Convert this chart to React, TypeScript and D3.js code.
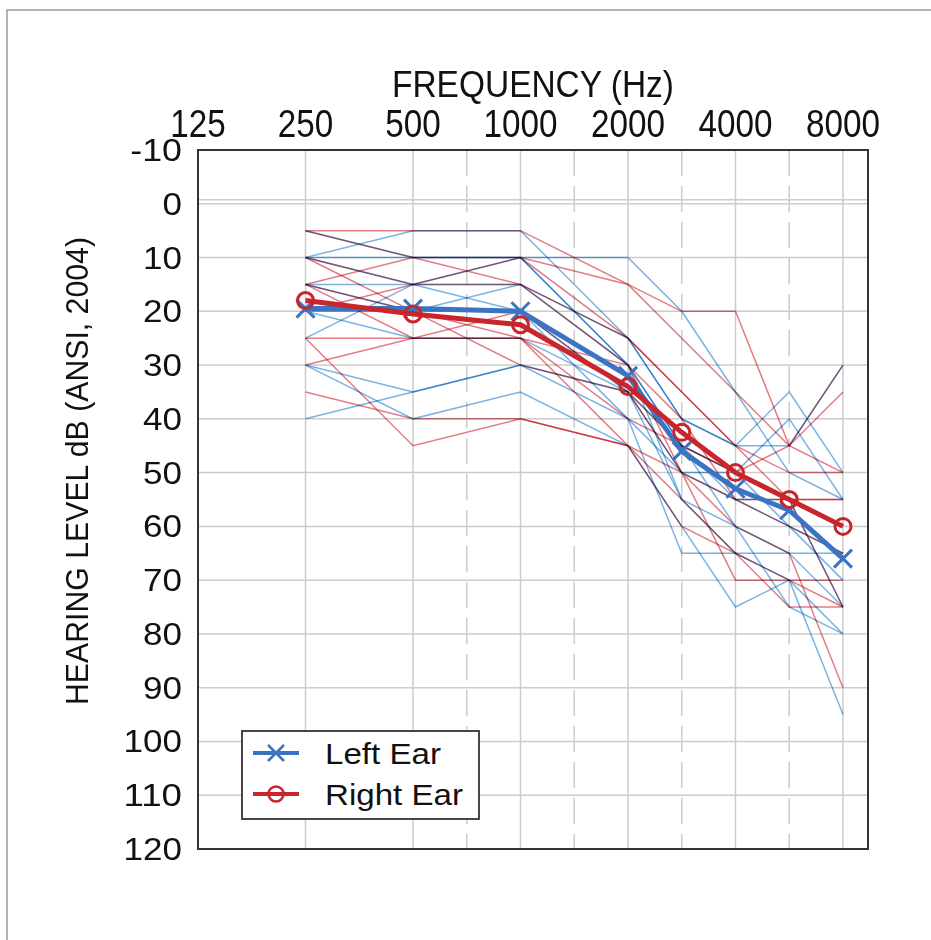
import React, { useEffect, useRef } from 'react';
import * as d3 from 'd3';

// frequency labels along the top and the inter-octave (dashed) lines
const freqLabels = [125, 250, 500, 1000, 2000, 4000, 8000];
const interOctave = [750, 1500, 3000, 6000];
const dbTicks = [-10, 0, 10, 20, 30, 40, 50, 60, 70, 80, 90, 100, 110, 120];

// test frequencies of every audiogram
const testFreqs = [250, 500, 1000, 2000, 3000, 4000, 6000, 8000];

// group means
const leftMean = [19.5, 19.5, 20, 32, 46, 53, 57, 66];
const rightMean = [18, 20.5, 22.5, 34, 42.5, 50, 55, 60];

// individual audiograms, left ear
const leftEars = [
  [10, 5, 5, 25, 40, 45, 45, 30],
  [10, 10, 10, 10, 20, 35, 50, 55],
  [15, 15, 15, 30, 45, 55, 60, 65],
  [20, 25, 25, 35, 50, 55, 55, 75],
  [25, 15, 10, 30, 55, 65, 70, 80],
  [30, 35, 30, 40, 65, 65, 65, 65],
  [30, 40, 35, 45, 60, 75, 70, 95],
  [40, 35, 30, 35, 55, 60, 75, 80],
  [5, 10, 10, 30, 45, 50, 40, 55],
  [15, 20, 20, 40, 50, 50, 60, 70],
  [20, 20, 15, 25, 40, 45, 35, 50],
  [10, 15, 20, 35, 45, 60, 65, 75],
];

// individual audiograms, right ear
const rightEars = [
  [5, 5, 5, 15, 25, 35, 45, 30],
  [5, 10, 10, 25, 35, 45, 55, 55],
  [10, 15, 10, 15, 20, 20, 45, 50],
  [15, 25, 20, 35, 45, 50, 55, 75],
  [25, 25, 25, 30, 40, 55, 55, 55],
  [25, 45, 40, 45, 55, 65, 70, 75],
  [35, 40, 40, 45, 50, 70, 70, 70],
  [15, 20, 25, 40, 45, 50, 45, 35],
  [20, 15, 15, 30, 50, 60, 65, 90],
  [10, 20, 30, 35, 50, 55, 60, 65],
  [15, 10, 15, 25, 35, 45, 50, 50],
  [30, 25, 25, 45, 60, 65, 75, 75],
];

const FONT = 'Liberation Sans, Arial, sans-serif';
const BLUE = '#3a74c2';
const RED = '#c8262c';

const Audiogram = () => {
  const svgRef = useRef(null);

  useEffect(() => {
    const width = 931;
    const height = 940;

    const svg = d3.select(svgRef.current)
      .attr('width', width)
      .attr('height', height);
    svg.selectAll('*').remove();

    const x = d3.scaleLog().base(2).domain([125, 9400]).range([198, 868]);
    // inter-octave frequencies sit half way between octaves
    const fx = (f) => x(125 * 2 ** (Math.round(2 * Math.log2(f / 125)) / 2));
    const y = d3.scaleLinear().domain([-10, 120]).range([150, 849]);

    const [x0, x1] = x.range();
    const [y0, y1] = y.range();

    // outer frame (only top and left edges fall inside the picture)
    svg.append('path')
      .attr('d', `M7,${height}V10H${width}`)
      .attr('fill', 'none')
      .attr('stroke', '#9a9a9a')
      .attr('stroke-width', 1.5);

    // grid
    const grid = svg.append('g').attr('stroke', '#cccccc').attr('stroke-width', 1.5);
    grid.selectAll('.h')
      .data(dbTicks)
      .enter()
      .append('line')
      .attr('x1', x0).attr('x2', x1)
      .attr('y1', (d) => y(d)).attr('y2', (d) => y(d));
    grid.append('line')
      .attr('x1', x0).attr('x2', x1)
      .attr('y1', y(0) - 4).attr('y2', y(0) - 4);
    grid.selectAll('.v')
      .data(freqLabels)
      .enter()
      .append('line')
      .attr('x1', (d) => fx(d)).attr('x2', (d) => fx(d))
      .attr('y1', y0).attr('y2', y1);
    grid.selectAll('.d')
      .data(interOctave)
      .enter()
      .append('line')
      .attr('x1', (d) => fx(d)).attr('x2', (d) => fx(d))
      .attr('y1', y0).attr('y2', y1)
      .attr('stroke-dasharray', '26,10');

    const line = d3.line()
      .x((d, i) => fx(testFreqs[i]))
      .y((d) => y(d));

    // individual audiograms
    const thin = svg.append('g').attr('fill', 'none').attr('stroke-width', 1.5);
    thin.selectAll('.l')
      .data(leftEars)
      .enter()
      .append('path')
      .attr('d', line)
      .attr('stroke', '#4f9ad8')
      .attr('stroke-opacity', 0.75)
      .style('mix-blend-mode', 'multiply');
    thin.selectAll('.r')
      .data(rightEars)
      .enter()
      .append('path')
      .attr('d', line)
      .attr('stroke', '#d9505c')
      .attr('stroke-opacity', 0.75)
      .style('mix-blend-mode', 'multiply');

    // plot border
    svg.append('rect')
      .attr('x', x0).attr('y', y0)
      .attr('width', x1 - x0).attr('height', y1 - y0)
      .attr('fill', 'none')
      .attr('stroke', '#333')
      .attr('stroke-width', 2);

    const drawX = (g, cx, cy, s, w) => {
      g.append('path')
        .attr('d', `M${cx - s},${cy - s}L${cx + s},${cy + s}M${cx - s},${cy + s}L${cx + s},${cy - s}`)
        .attr('stroke', BLUE)
        .attr('stroke-width', w)
        .attr('fill', 'none');
    };
    const drawO = (g, cx, cy, r, w) => {
      g.append('circle')
        .attr('cx', cx).attr('cy', cy).attr('r', r)
        .attr('stroke', RED)
        .attr('stroke-width', w)
        .attr('fill', 'none');
    };

    // mean lines
    const means = svg.append('g');
    means.append('path')
      .attr('d', line(leftMean))
      .attr('fill', 'none')
      .attr('stroke', BLUE)
      .attr('stroke-width', 5)
      .attr('stroke-linejoin', 'round');
    leftMean.forEach((d, i) => drawX(means, fx(testFreqs[i]), y(d), 9, 3));
    means.append('path')
      .attr('d', line(rightMean))
      .attr('fill', 'none')
      .attr('stroke', RED)
      .attr('stroke-width', 5)
      .attr('stroke-linejoin', 'round');
    rightMean.forEach((d, i) => drawO(means, fx(testFreqs[i]), y(d), 8, 3));

    // axis labels
    const charW = (s, w) => s.split('').reduce((a, c) => a + (c === '-' ? w * 0.65 : w), 0);
    svg.append('g')
      .selectAll('text')
      .data(freqLabels)
      .enter()
      .append('text')
      .attr('x', (d) => fx(d))
      .attr('y', 137)
      .attr('text-anchor', 'middle')
      .attr('font-family', FONT)
      .attr('font-size', 38)
      .attr('fill', '#111')
      .attr('textLength', (d) => charW(String(d), 18.5))
      .attr('lengthAdjust', 'spacingAndGlyphs')
      .text((d) => d);

    svg.append('g')
      .selectAll('text')
      .data(dbTicks)
      .enter()
      .append('text')
      .attr('x', 182)
      .attr('y', (d) => y(d) + 11)
      .attr('text-anchor', 'end')
      .attr('font-family', FONT)
      .attr('font-size', 31)
      .attr('fill', '#111')
      .attr('textLength', (d) => charW(String(d), 19.5))
      .attr('lengthAdjust', 'spacingAndGlyphs')
      .text((d) => d);

    svg.append('text')
      .attr('x', (x0 + x1) / 2)
      .attr('y', 97)
      .attr('text-anchor', 'middle')
      .attr('font-family', FONT)
      .attr('font-size', 36)
      .attr('fill', '#111')
      .attr('textLength', 282)
      .attr('lengthAdjust', 'spacingAndGlyphs')
      .text('FREQUENCY (Hz)');

    svg.append('text')
      .attr('transform', 'translate(88,471) rotate(-90)')
      .attr('text-anchor', 'middle')
      .attr('font-family', FONT)
      .attr('font-size', 31)
      .attr('fill', '#111')
      .attr('textLength', 468)
      .attr('lengthAdjust', 'spacingAndGlyphs')
      .text('HEARING LEVEL dB (ANSI, 2004)');

    // legend
    const lg = svg.append('g');
    lg.append('rect')
      .attr('x', 242).attr('y', 731)
      .attr('width', 237).attr('height', 88)
      .attr('fill', '#fff')
      .attr('stroke', '#333')
      .attr('stroke-width', 1.8);
    const items = [
      { label: 'Left Ear', color: BLUE, w: 116 },
      { label: 'Right Ear', color: RED, w: 138 },
    ];
    items.forEach((it, i) => {
      const cy = 753 + i * 41;
      lg.append('line')
        .attr('x1', 253).attr('x2', 299)
        .attr('y1', cy).attr('y2', cy)
        .attr('stroke', it.color)
        .attr('stroke-width', 4);
      if (i === 0) drawX(lg, 276, cy, 8, 2.5);
      else drawO(lg, 276, cy, 7.5, 2.5);
      lg.append('text')
        .attr('x', 325)
        .attr('y', cy + 11)
        .attr('font-family', FONT)
        .attr('font-size', 30)
        .attr('fill', '#111')
        .attr('textLength', it.w)
        .attr('lengthAdjust', 'spacingAndGlyphs')
        .text(it.label);
    });
  }, []);

  return (
    <svg ref={svgRef} style={{ position: 'absolute', left: 0, top: 0, background: '#fff' }}></svg>
  );
};

export default function App() {
  return <Audiogram />;
}
